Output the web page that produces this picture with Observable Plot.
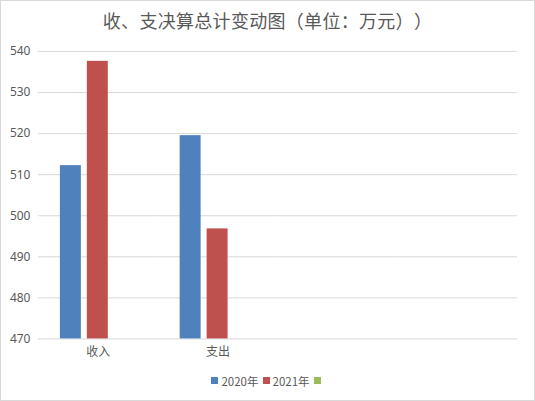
<!DOCTYPE html>
<html>
<head>
<meta charset="utf-8">
<script src="https://cdn.jsdelivr.net/npm/d3@7"></script>
<script src="https://cdn.jsdelivr.net/npm/@observablehq/plot@0.6"></script>
<style>
  html, body { margin: 0; padding: 0; background: #fff; }
  #wrap { position: relative; width: 535px; height: 401px; box-sizing: border-box; border: 1px solid #d9d9d9; overflow: hidden; font-family: "Noto Sans CJK SC", "Noto Sans", sans-serif; color: #595959; }
  #title { position: absolute; left: 0; top: 6px; width: 533px; text-align: center; font-size: 18px; letter-spacing: 0.3px; color: #595959; text-spacing-trim: space-all; }
  #chart { position: absolute; left: -1px; top: 38px; }
  #legend { position: absolute; left: 0; top: 370px; width: 533px; text-align: center; font-size: 11.5px; color: #595959; }
  .item { display: inline-flex; align-items: center; margin: 0 2px; }
  .sw { display: inline-block; width: 7px; height: 7px; margin-right: 3px; }
</style>
</head>
<body>
<div id="wrap">
  <div id="title">收、支决算总计变动图（单位：万元））</div>
  <div id="chart"></div>
  <div id="legend"></div>
</div>
<script>
const categories = ["收入", "支出", "", " "];
const series = ["2020年", "2021年", "系列3"];
const seriesLabels = ["2020年", "2021年", ""];
const colors = ["#4F81BD", "#C0504D", "#9BBB59"];
const values2020 = [512.2, 519.5, null, null];
const values2021 = [537.6, 496.8, null, null];
const values3 = [null, null, null, null];
const yTicks = [470, 480, 490, 500, 510, 520, 530, 540];

const seriesValues = [values2020, values2021, values3];
const data = [];
seriesValues.forEach((vals, s) => vals.forEach((v, i) => data.push({cat: categories[i], series: series[s], value: v})));

const chart = Plot.plot({
  width: 535,
  height: 332,
  marginLeft: 38,
  marginRight: 17,
  marginTop: 12,
  marginBottom: 32,
  style: {fontFamily: "'Noto Sans', 'Noto Sans CJK SC', sans-serif", fontSize: "12px", color: "#595959", background: "transparent"},
  fx: {domain: categories, padding: 0},
  x: {domain: series, paddingInner: 0.222, paddingOuter: 0.833, axis: null},
  y: {domain: [470, 540]},
  color: {domain: series, range: colors},
  marks: [
    Plot.ruleY(yTicks, {stroke: "#d9d9d9", strokeWidth: 1}),
    Plot.barY(data, {fx: "cat", x: "series", y1: 470, y2: "value", fill: "series"}),
    Plot.axisY(yTicks, {tickSize: 0, tickPadding: 8, label: null, fill: "#595959", fontSize: 12}),
    Plot.axisFx({anchor: "bottom", tickSize: 0, tickPadding: 9, label: null, fill: "#595959", fontSize: 12, fontFamily: "'Noto Sans CJK SC', sans-serif"})
  ]
});
document.getElementById("chart").appendChild(chart);

const legend = document.getElementById("legend");
series.forEach((s, i) => {
  const it = document.createElement("span");
  it.className = "item";
  const sw = document.createElement("span");
  sw.className = "sw";
  sw.style.background = colors[i];
  it.appendChild(sw);
  if (seriesLabels[i]) it.appendChild(document.createTextNode(seriesLabels[i]));
  legend.appendChild(it);
});
</script>
</body>
</html>
